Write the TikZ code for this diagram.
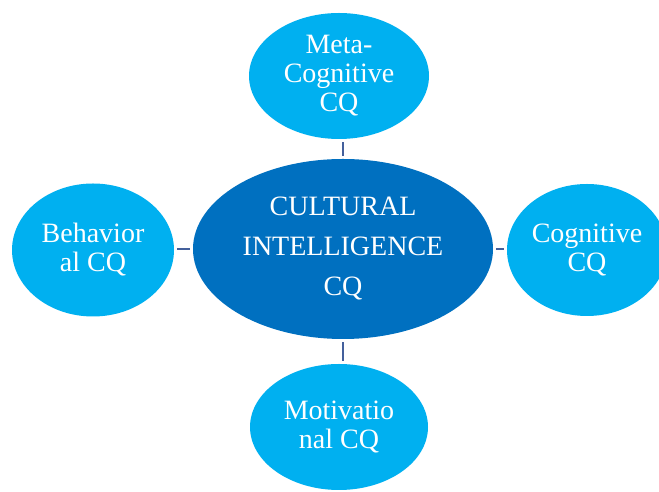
\documentclass[tikz,border=0pt]{standalone}
\usepackage{fontspec}
\setmainfont{Liberation Serif}
\usepackage{tikz}
\usetikzlibrary{shapes.geometric, positioning}
\usepackage{xcolor}
\definecolor{cqdark}{HTML}{0070C0}
\definecolor{cqlight}{HTML}{00B0F0}
\definecolor{cqlink}{HTML}{44609C}

\begin{document}
\begin{tikzpicture}[x=1pt, y=1pt,
  core/.style={ellipse, fill=cqdark, draw=none, text=white, inner sep=0pt,
    align=center, minimum width=300pt, minimum height=180pt,
    font=\fontsize{28}{40}\selectfont},
  facet/.style={ellipse, fill=cqlight, draw=none, text=white, inner sep=0pt,
    align=center, font=\fontsize{28}{29}\selectfont},
  link/.style={draw=cqlink, line width=2.8pt, shorten <=3pt, shorten >=3pt}
]

  % Page frame
  \clip (0,0) rectangle (659,492);
  \fill[white] (0,0) rectangle (659,492);

  % Central node
  \node[core] (cq) at (343,243) {CULTURAL\\INTELLIGENCE\\CQ};

  % Four facets
  \node[facet, minimum width=180pt, minimum height=126pt] (meta) at (339,416) {Meta-\\Cognitive\\CQ};
  \node[facet, minimum width=160pt, minimum height=132pt] (cog) at (587,242) {Cognitive\\CQ};
  \node[facet, minimum width=178pt, minimum height=126pt] (motiv) at (339,65) {Motivatio\\nal CQ};
  \node[facet, minimum width=162pt, minimum height=133pt] (behav) at (93,242) {Behavior\\al CQ};

  % Links
  \draw[link] (cq.north) -- (cq.north |- meta.south);
  \draw[link] (cq.east) -- (cq.east -| cog.west);
  \draw[link] (cq.south) -- (cq.south |- motiv.north);
  \draw[link] (cq.west) -- (cq.west -| behav.east);

\end{tikzpicture}
\end{document}
